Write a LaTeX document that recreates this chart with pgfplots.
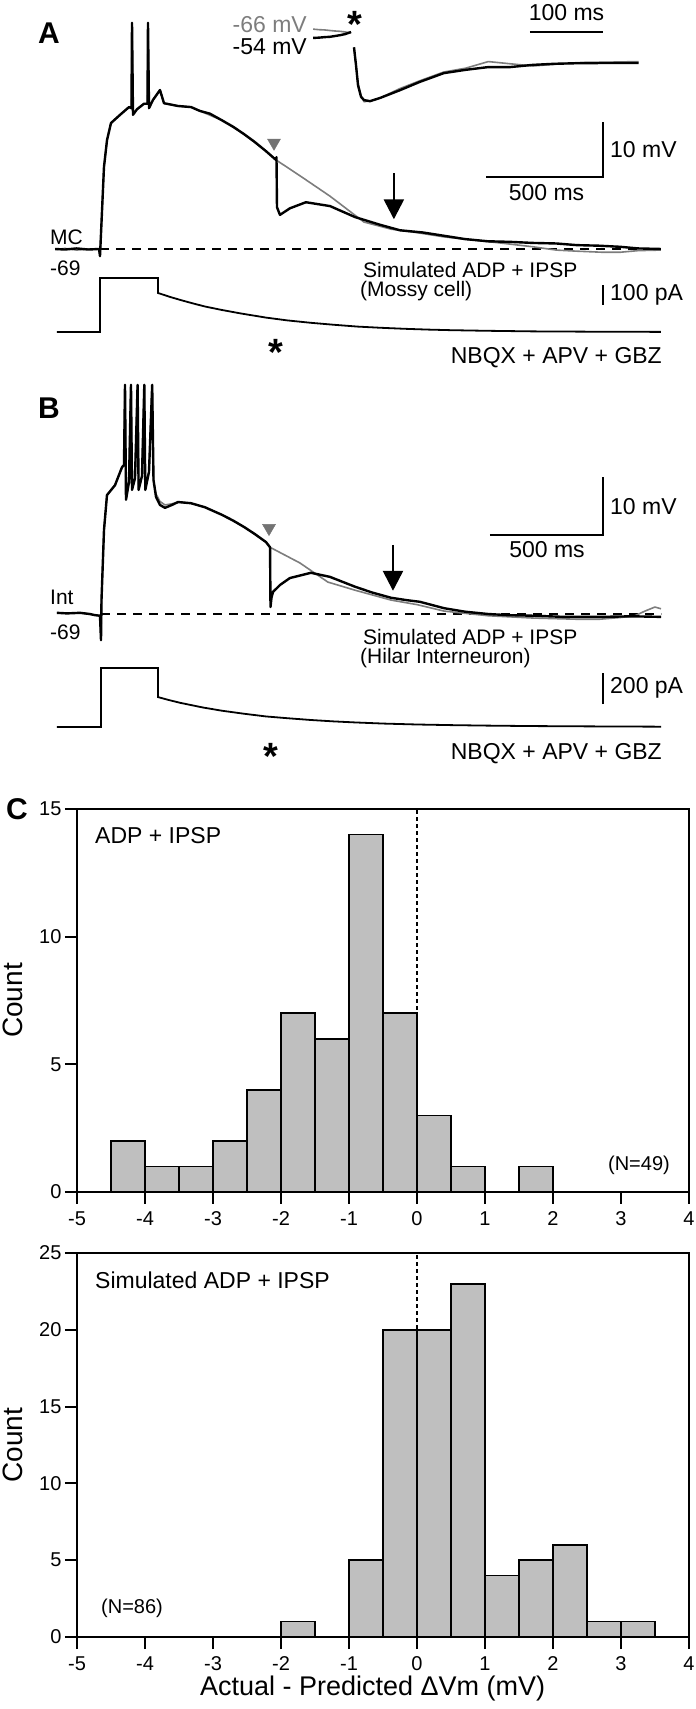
\documentclass[border=0pt]{standalone}
\usepackage{fontspec}
\setmainfont{Liberation Sans}
\usepackage{pgfplots}
\pgfplotsset{compat=1.18}
\usetikzlibrary{arrows.meta}
\definecolor{grtr}{RGB}{125,125,125}
\definecolor{trig}{RGB}{115,115,115}
\definecolor{barfill}{RGB}{191,191,191}
\newcommand{\fs}[1]{\fontsize{#1bp}{#1bp}\selectfont}
\pgfplotsset{
  trace/.style={hide axis, enlargelimits=false, clip=false, anchor=south west},
  blk/.style={black, line width=2.4bp, line join=round},
  gry/.style={grtr, line width=1.6bp, line join=round},
  sb/.style={black, line width=2bp},
  hist/.style={scale only axis, width=612bp, anchor=south west,
    xmin=-5, xmax=4, ymin=0, enlargelimits=false,
    xtick={-5,-4,...,4}, xtick pos=bottom, ytick pos=left,
    tick align=outside, major tick length=12bp,
    axis line style={line width=2.2bp}, every tick/.style={black, line width=2bp},
    tick label style={font=\fs{20}},
    xticklabel style={yshift=-4bp},
    /pgf/number format/assume math mode=true,
    every axis y label/.style={at={(axis description cs:-0.105,0.5)}, rotate=90, anchor=center, font=\fs{28}},
  },
}
\begin{document}
\begin{tikzpicture}
\useasboundingbox (0,0) rectangle (696bp,1709bp);

% ================= Panel A =================
\begin{axis}[trace, x=0.234bp, y=5.5bp, xmin=-200, xmax=2400, ymin=-72, ymax=-26, at={(53.2bp,1443.5bp)}]
\addplot[black, line width=1.5bp, dash pattern=on 9bp off 7bp] coordinates {(0,-69) (2397,-69)};
\addplot[gry] coordinates {
(-192,-69.1) (-150,-68.9) (-100,-69.2) (-50,-69.0) (-4,-69) (0,-70.3) (17,-54.1) (30,-49.2) (47,-46.1) (86,-44.6) (124,-43.2)
(134.6,-43.4) (136.8,-27.9) (141,-44.6) (158,-43.6) (188,-42.6) (203,-42.6) (205.1,-27.9) (209.4,-43.4) (226.5,-41.9)
(256.4,-40.1) (273.5,-42.5) (333,-43.0) (389,-43.2) (427,-43.9) (521,-45.6) (615,-48.1) (709,-51.2) (752,-52.8)
(855,-55.7) (983,-59.4) (1128,-64.1) (1244,-65.4) (1350,-66.0) (1470,-66.8) (1600,-67.4) (1709,-67.9) (1850,-68.6)
(1950,-69.2) (2038,-69.4) (2150,-69.6) (2222,-69.6) (2300,-69.3) (2397,-69.2)};
\addplot[blk] coordinates {
(-192,-69) (-150,-69.1) (-100,-68.9) (-50,-69.1) (-4,-69) (0,-70.3) (17,-54.1) (30,-49.2) (47,-46.1) (86,-44.6) (124,-43.2)
(134.6,-43.4) (136.8,-27.9) (141,-44.6) (158,-43.6) (188,-42.6) (203,-42.6) (205.1,-27.9) (209.4,-43.4) (226.5,-41.9)
(256.4,-40.1) (273.5,-42.5) (333,-43.0) (389,-43.2) (427,-43.9) (470,-44.4) (521,-45.6) (570,-46.8) (615,-48.1) (660,-49.5) (709,-51.2) (752,-52.8)
(754.3,-52.3) (756.4,-61.4) (769,-62.8) (812,-61.6) (880,-60.5) (983,-61.2) (1090,-63.2) (1197,-64.6) (1282,-65.6)
(1380,-66.0) (1470,-66.6) (1560,-67.2) (1658,-67.6) (1750,-67.7) (1850,-67.9) (1950,-68.0) (2038,-68.3) (2130,-68.4) (2222,-68.6) (2300,-68.9) (2397,-69.0)};
\addplot[sb] coordinates {(1650,-56) (2150,-56) (2150,-46)};
\addplot[only marks, mark=triangle*, mark size=7.5bp, mark options={rotate=180, fill=trig, draw=trig}] coordinates {(743.6,-49.7)};
\draw[black, line width=2.6bp, -{Triangle[width=20bp,length=20bp]}] (axis cs:1256,-55.2) -- (axis cs:1256,-63.6);
\end{axis}

% inset A
\begin{axis}[trace, x=0.73bp, y=5.5bp, xmin=-60, xmax=400, ymin=-14, ymax=2, at={(310.2bp,1599bp)}]
\addplot[gry] coordinates {(-56,0.7) (-48,0.6) (-40,0.55) (-33,0.45) (-26,0.36) (-19,0.3) (-12,0.18) (-4,0)};
\addplot[blk] coordinates {(-56,-0.9) (-48,-0.85) (-40,-0.75) (-33,-0.7) (-26,-0.55) (-19,-0.4) (-12,-0.2) (-4,0.18)};
\addplot[gry] coordinates {(0,-2.6) (2.7,-5.8) (5.5,-9.1) (9.6,-11.4) (13.7,-12.5) (24,-12.3) (36,-11.8) (63,-10.1) (90,-8.7) (123,-7.1) (153,-6.4) (184,-5.2) (214,-5.6) (245,-6.0) (275,-5.7) (305,-5.4) (350,-5.3) (390,-5.2)};
\addplot[blk] coordinates {(0,-2.6) (2.7,-5.8) (5.5,-9.5) (9.6,-11.6) (13.7,-12.2) (22,-12.4) (36,-11.8) (63,-10.4) (90,-8.9) (123,-7.3) (153,-6.7) (184,-6.2) (214,-6.2) (245,-5.8) (275,-5.6) (305,-5.5) (350,-5.45) (390,-5.45)};
\addplot[sb] coordinates {(241,0.18) (341,0.18)};
\end{axis}

% current A
\begin{axis}[trace, x=0.234bp, y=0.2bp, xmin=-200, xmax=2400, ymin=-20, ymax=300, at={(53.2bp,1373bp)}]
\addplot[black, line width=1.8bp] coordinates {(-184,0) (0,0) (0,270) (248,270) (248,195) (300,175) (350,158) (400,142) (450,127) (521,110) (600,93) (709,72) (800,58) (900,46) (1000,36) (1100,27) (1200,21) (1300,16) (1400,12) (1500,9) (1650,6) (1850,3) (2100,1.5) (2397,0.5)};
\addplot[sb] coordinates {(2150,135) (2150,235)};
\end{axis}

% ================= Panel B =================
\begin{axis}[trace, x=0.226bp, y=5.8bp, xmin=-200, xmax=2500, ymin=-75, ymax=-28, at={(55.8bp,1060.2bp)}]
\addplot[black, line width=1.5bp, dash pattern=on 9bp off 7bp] coordinates {(0,-69) (2478,-69)};
\addplot[gry] coordinates {
(-195,-68.8) (-93,-68.8) (-26.5,-69.2) (-4.4,-69.3) (0,-73.5) (2.2,-66.6) (13.3,-54.5) (26.5,-48.5) (61.9,-46.8) (92.9,-43.7)
(101.8,-43.3) (106.2,-29.5) (110.6,-49.3) (123.9,-46.2) (132.7,-29.5) (137.2,-47.6) (150.4,-45.6) (161.9,-29.5) (166.4,-47.6)
(181.4,-45.2) (191.6,-29.5) (196,-47.6) (212.4,-44.5) (226.5,-29.5) (232.3,-45.9) (243.4,-48.3) (261,-49.6) (283,-50.2)
(314,-50.0) (341,-49.7) (398,-49.9) (460,-50.6) (535,-51.9) (633,-54.0) (730,-56.6) (748,-57.5)
(880,-60.2) (1004,-63.5) (1124,-64.9) (1283,-66.6) (1400,-67.4) (1518,-68.5) (1712,-69.3) (1912,-69.7) (2100,-69.9) (2208,-69.9) (2300,-69.6) (2363,-69.3) (2407,-68.5) (2451,-67.8) (2478,-68.1)};
\addplot[blk] coordinates {
(-195,-68.8) (-150,-68.9) (-93,-68.8) (-50,-69.0) (-26.5,-69.2) (-4.4,-69.3) (0,-73.5) (2.2,-66.6) (13.3,-54.5) (26.5,-48.5) (61.9,-46.8) (92.9,-43.7)
(101.8,-43.3) (106.2,-29.5) (110.6,-49.3) (123.9,-46.2) (132.7,-29.5) (137.2,-47.6) (150.4,-45.6) (161.9,-29.5) (166.4,-47.6)
(181.4,-45.2) (191.6,-29.5) (196,-47.6) (212.4,-44.5) (226.5,-29.5) (232.3,-45.9) (243.4,-48.8) (261,-50.2) (283,-50.7)
(314,-50.2) (341,-49.7) (398,-49.9) (460,-50.6) (535,-51.9) (585,-52.9) (633,-54.0) (680,-55.2) (730,-56.6) (748,-57.5)
(750,-67.8) (754.4,-66.2) (761,-65.2) (792,-64.0) (836,-62.8) (929,-61.9) (1013,-62.6) (1124,-64.3) (1200,-65.3) (1283,-66.2)
(1350,-66.6) (1411,-66.9) (1518,-68.0) (1610,-68.6) (1712,-69.0) (1800,-69.2) (1912,-69.3) (2050,-69.5) (2208,-69.5) (2350,-69.4) (2478,-69.5)};
\addplot[sb] coordinates {(1721,-55.4) (2221,-55.4) (2221,-45.4)};
\addplot[only marks, mark=triangle*, mark size=7.5bp, mark options={rotate=180, fill=trig, draw=trig}] coordinates {(743.4,-54.2)};
\draw[black, line width=2.6bp, -{Triangle[width=20bp,length=20bp]}] (axis cs:1292,-57.1) -- (axis cs:1292,-65.0);
\end{axis}

% current B
\begin{axis}[trace, x=0.226bp, y=0.155bp, xmin=-200, xmax=2500, ymin=-20, ymax=400, at={(55.8bp,978.9bp)}]
\addplot[black, line width=1.8bp] coordinates {(-195,0) (0,0) (0,381) (252,381) (252,193) (300,174) (350,156) (400,141) (450,126) (535,105) (630,86) (730,68) (830,56) (930,45) (1030,36) (1130,29) (1250,22) (1400,16) (1550,12) (1700,9) (1900,6) (2150,4) (2478,2)};
\addplot[sb] coordinates {(2221,148) (2221,348)};
\end{axis}

% ================= Panel C =================
\begin{axis}[hist, height=383bp, at={(77bp,517bp)}, ymax=15, ytick={0,5,10,15}, ylabel={Count}]
\addplot[ybar interval, fill=barfill, draw=black, line width=1.6bp] coordinates {
(-4.5,2) (-4,1) (-3.5,1) (-3,2) (-2.5,4) (-2,7) (-1.5,6) (-1,14) (-0.5,7) (0,3) (0.5,1) (1,0) (1.5,1) (2,0)};
\addplot[black, line width=1.5bp, dash pattern=on 4bp off 3bp] coordinates {(0,0) (0,15)};
\end{axis}

\begin{axis}[hist, height=384bp, at={(77bp,72bp)}, ymax=25, ytick={0,5,...,25}, ylabel={Count},
  xlabel={Actual - Predicted ΔVm (mV)},
  every axis x label/.style={at={(axis description cs:0.483,-0.133)}, anchor=center, font=\fs{27}}]
\addplot[ybar interval, fill=barfill, draw=black, line width=1.6bp] coordinates {
(-2,1) (-1.5,0) (-1,5) (-0.5,20) (0,20) (0.5,23) (1,4) (1.5,5) (2,6) (2.5,1) (3,1) (3.5,0)};
\addplot[black, line width=1.5bp, dash pattern=on 4bp off 3bp] coordinates {(0,0) (0,25)};
\end{axis}

% ================= Text =================
\begin{scope}[x=1bp, y=1bp]
\node[font=\fs{30}\bfseries] at (49,{1709-33}) {A};
\node[font=\fs{30}\bfseries] at (49,{1709-408}) {B};
\node[font=\fs{30}\bfseries] at (17,{1709-809}) {C};
% A labels
\node[font=\fs{21}, anchor=west, inner sep=0] at (50,{1709-237}) {MC};
\node[font=\fs{21}, anchor=west, inner sep=0] at (50,{1709-268}) {-69};
\node[font=\fs{23}, anchor=east, inner sep=0, text=grtr] at (307,{1709-25}) {-66 mV};
\node[font=\fs{23}, anchor=east, inner sep=0] at (307,{1709-47}) {-54 mV};
\node[font=\fs{38}\bfseries, anchor=north, inner sep=0] at (355,{1709-11}) {*};
\node[font=\fs{23}, inner sep=0] at (566.5,{1709-13}) {100 ms};
\node[font=\fs{23}, anchor=west, inner sep=0] at (610,{1709-150}) {10 mV};
\node[font=\fs{23}, inner sep=0] at (546.5,{1709-193}) {500 ms};
\node[font=\fs{21}, anchor=west, inner sep=0] at (363,{1709-270}) {Simulated ADP + IPSP};
\node[font=\fs{21}, anchor=west, inner sep=0] at (360,{1709-291}) {(Mossy cell)};
\node[font=\fs{23}, anchor=west, inner sep=0] at (610,{1709-295}) {100 pA};
\node[font=\fs{38}\bfseries, anchor=north, inner sep=0] at (275.5,{1709-339}) {*};
\node[font=\fs{23}, anchor=east, inner sep=0] at (662,{1709-358}) {NBQX + APV + GBZ};
% B labels
\node[font=\fs{21}, anchor=west, inner sep=0] at (50,{1709-597}) {Int};
\node[font=\fs{21}, anchor=west, inner sep=0] at (50,{1709-632}) {-69};
\node[font=\fs{23}, anchor=west, inner sep=0] at (610,{1709-507}) {10 mV};
\node[font=\fs{23}, inner sep=0] at (547,{1709-550}) {500 ms};
\node[font=\fs{21}, anchor=west, inner sep=0] at (363,{1709-637}) {Simulated ADP + IPSP};
\node[font=\fs{21}, anchor=west, inner sep=0] at (360,{1709-658}) {(Hilar Interneuron)};
\node[font=\fs{23}, anchor=west, inner sep=0] at (610,{1709-688}) {200 pA};
\node[font=\fs{38}\bfseries, anchor=north, inner sep=0] at (271,{1709-743}) {*};
\node[font=\fs{23}, anchor=east, inner sep=0] at (662,{1709-754}) {NBQX + APV + GBZ};
% C labels
\node[font=\fs{23}, anchor=west, inner sep=0] at (95,{1709-836}) {ADP + IPSP};
\node[font=\fs{20}, anchor=east, inner sep=0] at (670,{1709-1165}) {(N=49)};
\node[font=\fs{23}, anchor=west, inner sep=0] at (95,{1709-1280}) {Simulated ADP + IPSP};
\node[font=\fs{20}, anchor=west, inner sep=0] at (101,{1709-1608}) {(N=86)};
\end{scope}
\end{tikzpicture}
\end{document}
